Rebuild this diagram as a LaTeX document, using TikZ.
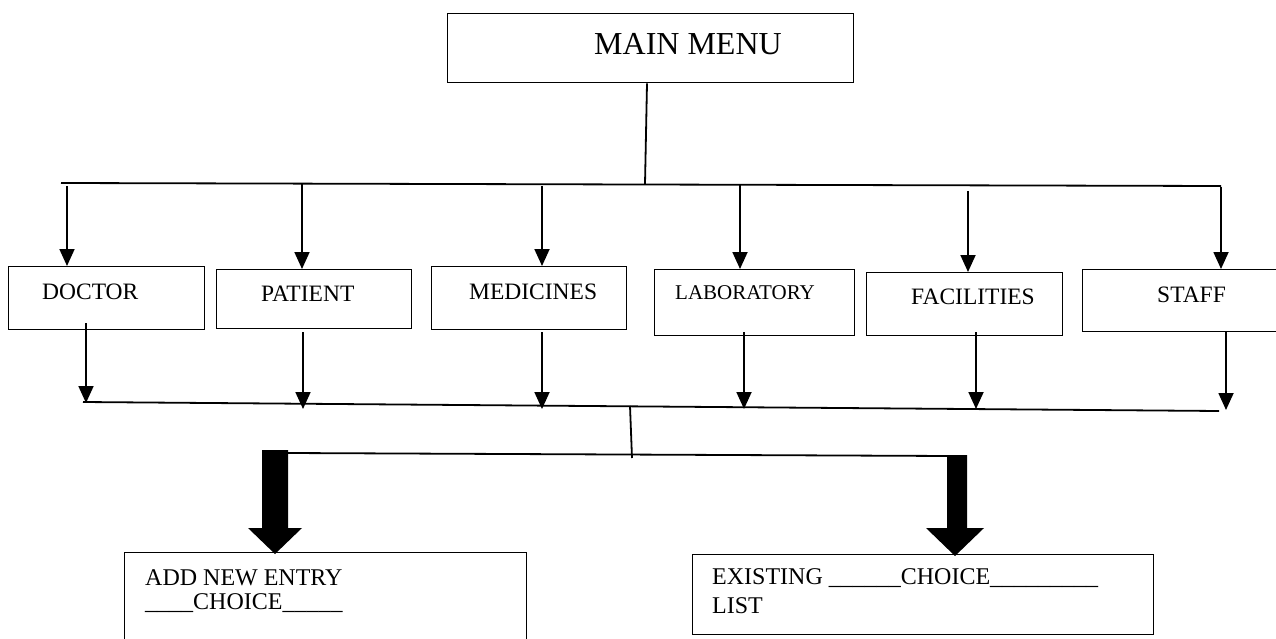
\documentclass[tikz,border=0pt]{standalone}
\usepackage{fontspec}
\setmainfont{Liberation Serif}
\usetikzlibrary{arrows.meta,calc}
\begin{document}
\begin{tikzpicture}[x=1pt,y=-1pt,
  box/.style={draw, line width=1.3pt, inner sep=0pt, anchor=north west},
  lbl/.style={font=\fontsize{23.5}{26}\selectfont, anchor=west, inner sep=0pt},
  btxt/.style={font=\fontsize{24}{27}\selectfont, anchor=west, inner sep=0pt},
  conn/.style={line width=1.8pt},
  arr/.style={line width=1.8pt, -{Triangle[length=17pt,width=15pt]}},
  bigarrow/.style={fill=black}]
\useasboundingbox (0,0) rectangle (1276,639);
\fill[white] (0,0) rectangle (1276,639);

% main menu
\node[box, minimum width=406pt, minimum height=69pt] (main) at (447,13) {};
\node[lbl, font=\fontsize{32}{36}\selectfont] (tmain) at (594,44) {MAIN MENU};

% boxes
\node[box, minimum width=196pt, minimum height=63pt] (doctor) at (8,266) {};
\node[box, minimum width=195pt, minimum height=59pt] (patient) at (216,269) {};
\node[box, minimum width=195pt, minimum height=63pt] (medicines) at (431,266) {};
\node[box, minimum width=200pt, minimum height=66pt] (laboratory) at (654,269) {};
\node[box, minimum width=196pt, minimum height=63pt] (facilities) at (866,272) {};
\node[box, minimum width=210pt, minimum height=62pt] (staff) at (1082,269) {};

\node[lbl] (tdoctor) at (42,292) {DOCTOR};
\node[lbl] (tpatient) at (261,294) {PATIENT};
\node[lbl] (tmedicines) at (469,292) {MEDICINES};
\node[lbl, font=\fontsize{21}{24}\selectfont] (tlaboratory) at (675,293) {LABORATORY};
\node[lbl] (tfacilities) at (911,297) {FACILITIES};
\node[lbl] (tstaff) at (1157,295) {STAFF};

% bottom boxes
\node[box, minimum width=402pt, minimum height=100pt] (addnew) at (124,552) {};
\node[box, minimum width=461pt, minimum height=80pt] (existing) at (692,554) {};
\node[btxt] (tadd1) at (145,578) {ADD NEW ENTRY};
\node[btxt] (tadd2) at (145,603) {\_\_\_\_CHOICE\_\_\_\_\_};
\node[btxt] (tex1) at (712,578) {EXISTING \_\_\_\_\_\_CHOICE\_\_\_\_\_\_\_\_\_};
\node[btxt] (tex2) at (712,606) {LIST};

% top bus
\coordinate (stemtop) at ($(main.south west)+(200,0)$);
\coordinate (stembot) at (645,184);
\coordinate (busL) at (61,183);
\coordinate (busR) at (1221,186);
\draw[conn] (stemtop) -- (stembot);
\draw[conn] (busL) -- (busR);

\coordinate (a1) at (67,186);
\coordinate (a2) at (302,184);
\coordinate (a3) at (542,186);
\coordinate (a4) at (740,185);
\coordinate (a5) at (968,191);
\coordinate (a6) at (1221,187);
\draw[arr] (a1) -- (a1 |- doctor.north);
\draw[arr] (a2) -- (a2 |- patient.north);
\draw[arr] (a3) -- (a3 |- medicines.north);
\draw[arr] (a4) -- (a4 |- laboratory.north);
\draw[arr] (a5) -- (a5 |- facilities.north);
\draw[arr] (a6) -- (a6 |- staff.north);

% lower bus
\coordinate (lbusL) at (83,402);
\coordinate (lbusR) at (1219,411);
\draw[conn] (lbusL) -- (lbusR);
\coordinate (d1) at (86,323);
\coordinate (d2) at (303,332);
\coordinate (d3) at (542,332);
\coordinate (d4) at (744,332);
\coordinate (d5) at (976,332);
\coordinate (d6) at (1226,332);
\draw[arr] (d1) -- (86,403);
\draw[arr] (d2) -- (303,409);
\draw[arr] (d3) -- (542,409);
\draw[arr] (d4) -- (744,409);
\draw[arr] (d5) -- (976,409);
\draw[arr] (d6) -- (1226,410);

% lower stem and split
\coordinate (s2top) at (630,406);
\coordinate (s2bot) at (632,458);
\draw[conn] (s2top) -- (s2bot);
\coordinate (splitL) at (288,453);
\coordinate (splitR) at (950,456);
\draw[conn] (splitL) -- (splitR);

% thick arrows
\fill[bigarrow] (262,450) -- (288,450) -- (288,528) -- (302,528) -- (275,554) -- (248,528) -- (262,528) -- cycle;
\fill[bigarrow] (947,455) -- (967,455) -- (967,528) -- (984,528) -- (955,556) -- (926,528) -- (947,528) -- cycle;
\end{tikzpicture}
\end{document}
